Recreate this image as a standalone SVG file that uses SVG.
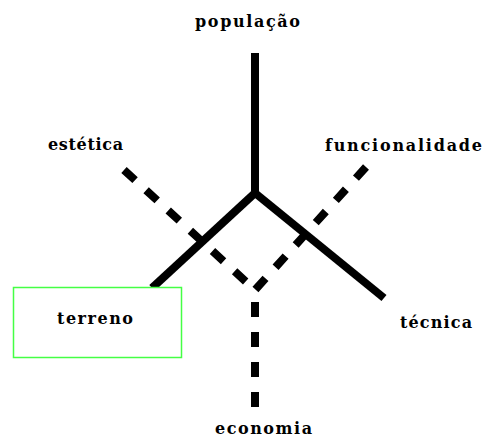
<svg xmlns="http://www.w3.org/2000/svg" width="484" height="438" viewBox="0 0 484 438">
<style>
.lbl{font-family:"DejaVu Serif","Liberation Serif",serif;font-weight:bold;font-size:16px;fill:#000}
.solid{stroke:#000;stroke-width:8;fill:none}
.dash{stroke:#000;stroke-width:8;fill:none;stroke-dasharray:15 15}
</style>
<rect width="484" height="438" fill="#fff"/>
<g id="connectors">
<line class="solid" x1="255" y1="53" x2="255" y2="193"/>
<line class="solid" x1="255" y1="193" x2="152" y2="288"/>
<line class="solid" x1="255" y1="193" x2="384" y2="298"/>
<line class="dash" x1="124" y1="170" x2="255" y2="290"/>
<line class="dash" x1="366" y1="167" x2="255" y2="290"/>
<line class="dash" x1="255" y1="302" x2="255" y2="409" stroke-dasharray="14 17"/>
</g>
<g id="populacao"><text class="lbl" x="195" y="27" textLength="105" lengthAdjust="spacing">população</text></g>
<g id="estetica"><text class="lbl" x="48" y="150" textLength="75" lengthAdjust="spacing">estética</text></g>
<g id="funcionalidade"><text class="lbl" x="325" y="151" textLength="157" lengthAdjust="spacing">funcionalidade</text></g>
<g id="terreno"><rect x="13.5" y="287.5" width="168" height="70" fill="#fff" stroke="#44ff44" stroke-width="1.5"/><text class="lbl" x="57" y="324" textLength="76" lengthAdjust="spacing">terreno</text></g>
<g id="tecnica"><text class="lbl" x="400" y="328" textLength="72" lengthAdjust="spacing">técnica</text></g>
<g id="economia"><text class="lbl" x="215" y="434" textLength="97" lengthAdjust="spacing">economia</text></g>
</svg>
